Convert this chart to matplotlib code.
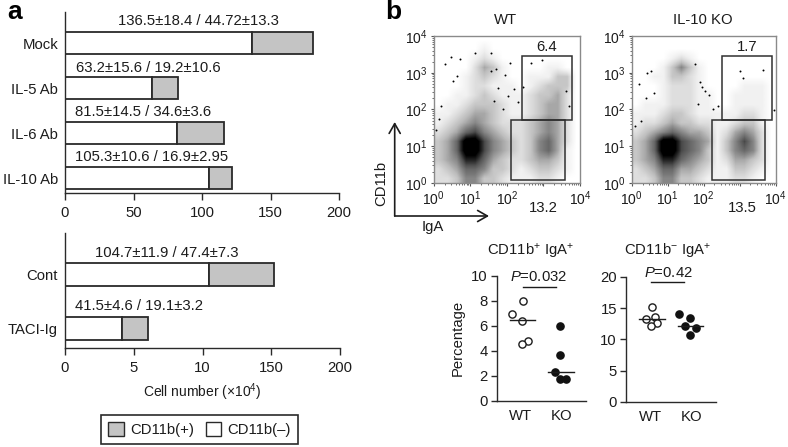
import numpy as np
import matplotlib
matplotlib.use("Agg")
import matplotlib.pyplot as plt
from matplotlib.patches import Patch, Rectangle

plt.rcParams['font.family'] = ['Liberation Sans', 'DejaVu Sans']
plt.rcParams['mathtext.fontset'] = 'custom'
plt.rcParams['mathtext.rm'] = 'Liberation Sans'
plt.rcParams['mathtext.it'] = 'Liberation Sans:italic'
plt.rcParams['mathtext.default'] = 'regular'

W, H = 788, 447
DARK = '#2a2a2a'
GREY = '#c4c4c4'
FS = 10.7

# panel a
top_names = ['Mock', 'IL-5 Ab', 'IL-6 Ab', 'IL-10 Ab']
top_neg = [136.5, 63.2, 81.5, 105.3]
top_pos = [44.72, 19.2, 34.6, 16.9]
top_notes = ['136.5±18.4 / 44.72±13.3', '63.2±15.6 / 19.2±10.6',
             '81.5±14.5 / 34.6±3.6', '105.3±10.6 / 16.9±2.95']
low_names = ['Cont', 'TACI-Ig']
low_neg = [104.7, 41.5]
low_pos = [47.4, 19.1]
low_notes = ['104.7±11.9 / 47.4±7.3', '41.5±4.6 / 19.1±3.2']
top_xticks = [0, 50, 100, 150, 200]
top_xlabels = ['0', '50', '100', '150', '200']
low_xlabels = ['0', '5', '10', '150', '200']

# panel b, flow plots: density read by eye per 0.25 decade, top row = 10^3.75-10^4
wt_density = [
    [0, 0, 0, 0, 0, 0, 0, 0, 0, 0, 0, 0, 0, 0, 0, 0],
    [0, 0, 0, 0, 0, 1, 0, 0, 0, 0, 0, 0, 0, 0, 0, 0],
    [0, 0, 0, 0, 1, 2, 1, 0, 0, 0, 0, 0, 0, 0, 0, 0],
    [0, 0, 0, 0, 2, 4, 3, 1, 0, 0, 0, 0, 1, 1, 0, 0],
    [0, 0, 0, 1, 2, 3, 2, 1, 0, 0, 1, 1, 1, 3, 3, 0],
    [0, 0, 0, 1, 2, 2, 1, 1, 1, 0, 1, 2, 3, 3, 3, 0],
    [0, 0, 1, 1, 2, 3, 2, 1, 1, 1, 2, 3, 3, 4, 2, 0],
    [0, 1, 1, 2, 3, 3, 3, 2, 1, 1, 2, 3, 4, 4, 2, 0],
    [1, 1, 2, 3, 4, 4, 3, 2, 1, 1, 2, 3, 4, 4, 2, 0],
    [1, 2, 3, 4, 5, 4, 3, 2, 2, 2, 3, 4, 5, 4, 2, 0],
    [2, 3, 4, 6, 7, 5, 4, 3, 2, 2, 3, 4, 5, 4, 2, 0],
    [3, 4, 6, 10, 10, 7, 5, 4, 3, 2, 3, 5, 6, 4, 2, 0],
    [3, 4, 6, 10, 10, 7, 5, 4, 3, 2, 3, 5, 6, 4, 1, 0],
    [3, 4, 5, 8, 8, 6, 4, 3, 2, 2, 3, 4, 4, 3, 1, 0],
    [2, 3, 4, 6, 6, 5, 3, 3, 2, 1, 2, 3, 3, 2, 1, 0],
    [2, 2, 3, 5, 5, 3, 3, 2, 1, 1, 1, 2, 2, 1, 0, 0],
]
ko_density = [
    [0, 0, 0, 0, 0, 0, 0, 0, 0, 0, 0, 0, 0, 0, 0, 0],
    [0, 0, 0, 0, 0, 0, 0, 0, 0, 0, 0, 0, 0, 0, 0, 0],
    [0, 0, 0, 0, 1, 2, 1, 0, 0, 0, 0, 0, 0, 0, 0, 0],
    [0, 0, 0, 1, 3, 5, 3, 1, 0, 0, 0, 0, 0, 0, 0, 0],
    [0, 0, 1, 1, 3, 3, 2, 1, 0, 0, 0, 0, 0, 0, 0, 0],
    [0, 0, 0, 1, 2, 2, 2, 1, 0, 0, 0, 0, 1, 1, 1, 0],
    [0, 0, 0, 1, 2, 2, 2, 1, 1, 0, 0, 1, 1, 1, 1, 0],
    [0, 1, 1, 1, 2, 2, 2, 1, 1, 0, 0, 1, 1, 1, 1, 0],
    [1, 1, 1, 2, 3, 3, 2, 1, 1, 1, 1, 1, 2, 2, 1, 0],
    [1, 2, 2, 3, 4, 3, 3, 2, 2, 1, 1, 2, 3, 3, 1, 0],
    [2, 3, 4, 5, 6, 5, 4, 4, 3, 1, 2, 4, 5, 4, 2, 0],
    [3, 4, 6, 10, 10, 7, 6, 5, 4, 1, 3, 5, 7, 5, 2, 0],
    [3, 4, 6, 10, 10, 7, 6, 5, 3, 1, 3, 5, 6, 5, 2, 0],
    [3, 4, 5, 8, 8, 6, 5, 4, 3, 1, 2, 4, 4, 3, 2, 0],
    [2, 3, 4, 6, 6, 4, 4, 3, 2, 1, 1, 3, 3, 2, 1, 0],
    [2, 2, 3, 5, 5, 3, 3, 2, 1, 1, 1, 2, 2, 1, 0, 0],
]
# stray events outside the clouds, in decades
wt_stray_x = [0.32, 0.48, 1.14, 1.57, 0.71, 0.53, 0.64, 1.71, 1.57, 1.94, 2.08, 2.66, 2.95,
              1.75, 2.03, 2.21, 0.21, 0.16, 0.07, 1.66, 1.89, 2.3, 2.45, 3.7, 3.62]
wt_stray_y = [3.25, 3.44, 3.55, 3.53, 3.38, 2.77, 2.91, 3.09, 3.05, 2.94, 3.27, 3.27, 3.35,
              2.59, 2.36, 2.55, 2.09, 1.73, 1.45, 2.23, 2.0, 2.2, 2.6, 2.1, 2.5]
ko_stray_x = [0.42, 0.55, 0.2, 0.4, 1.9, 1.75, 2.05, 2.15, 2.25, 3.0, 3.65, 3.1, 2.4, 3.95,
              0.62, 1.85, 1.95, 0.25, 0.1]
ko_stray_y = [3.0, 3.05, 2.7, 2.3, 2.75, 3.25, 2.5, 2.4, 2.0, 3.05, 3.07, 2.85, 2.1, 1.98,
              2.45, 2.15, 2.6, 1.7, 1.55]
flow_ticks = [0, 1, 2, 3, 4]
flow_xlabels = ['$10^{0}$', '$10^{1}$', '$10^{2}$', '', '$10^{4}$']
flow_ylabels = ['$10^{0}$', '$10^{1}$', '$10^{2}$', '$10^{3}$', '$10^{4}$']
flow_minor = [d + np.log10(m) for d in range(4) for m in range(2, 10)]

# panel b, dot plots
pos_wt_x = [1.06, 0.79, 1.05, 1.19, 1.05]
pos_wt_y = [8.0, 6.9, 6.4, 4.8, 4.5]
pos_ko_x = [1.98, 1.98, 1.85, 1.98, 2.11]
pos_ko_y = [6.0, 3.65, 2.3, 1.75, 1.75]
neg_wt_x = [1.04, 0.91, 1.11, 1.17, 1.03]
neg_wt_y = [15.2, 13.2, 13.6, 12.6, 12.1]
neg_ko_x = [1.70, 1.98, 1.84, 2.11, 1.98]
neg_ko_y = [14.0, 13.5, 12.2, 11.8, 10.7]
pos_medians = [6.45, 2.3]
neg_medians = [13.2, 12.2]
group_names = ['WT', 'KO']


def px_axes(fig, left, top, right, bottom):
    return fig.add_axes([left / W, 1 - bottom / H, (right - left) / W, (bottom - top) / H])


def px_text(fig, x, y, s, **kw):
    kw.setdefault('ha', 'center')
    kw.setdefault('va', 'center')
    kw.setdefault('fontsize', FS)
    kw.setdefault('color', '#1c1c1c')
    fig.text(x / W, 1 - y / H, s, **kw)


def bars(ax, names, neg, pos, height, xlabels, ylim):
    y = np.arange(len(names))
    ax.barh(y, neg, height, color='white', edgecolor=DARK, linewidth=1.3)
    ax.barh(y, pos, height, left=neg, color=GREY, edgecolor=DARK, linewidth=1.3)
    ax.set_xlim(0, 200)
    ax.set_ylim(*ylim)
    ax.set_yticks(y)
    ax.set_yticklabels(names, fontsize=FS, color='#1c1c1c')
    ax.set_xticks(top_xticks)
    ax.set_xticklabels(xlabels, fontsize=FS, color='#1c1c1c')
    ax.tick_params(axis='y', length=0, pad=5)
    ax.tick_params(axis='x', length=5, width=1, color=DARK, pad=4)
    for s in ['top', 'right']:
        ax.spines[s].set_visible(False)
    for s in ['left', 'bottom']:
        ax.spines[s].set_color(DARK)
        ax.spines[s].set_linewidth(1)
    ax.patch.set_alpha(0)


def flow(ax, density, stray_x, stray_y, gates):
    ax.imshow(np.array(density), extent=(0, 4, 0, 4), cmap='Greys', vmin=0, vmax=9,
              interpolation='bilinear', aspect='auto')
    ax.scatter(stray_x, stray_y, s=2, color='black', linewidths=0)
    for x0, x1, y0, y1 in gates:
        ax.add_patch(Rectangle((x0, y0), x1 - x0, y1 - y0, fill=False, edgecolor='#303030', linewidth=1.1))
    ax.set_xlim(0, 4)
    ax.set_ylim(0, 4)
    ax.set_xticks(flow_ticks)
    ax.set_yticks(flow_ticks)
    ax.set_xticklabels(flow_xlabels, fontsize=10, color='#1c1c1c')
    ax.set_yticklabels(flow_ylabels, fontsize=10, color='#1c1c1c')
    ax.set_xticks(flow_minor, minor=True)
    ax.set_yticks(flow_minor, minor=True)
    ax.tick_params(which='major', length=2.5, width=0.8, color='#555555', pad=2)
    ax.tick_params(which='minor', length=1.2, width=0.6, color='#555555')
    for s in ax.spines.values():
        s.set_color('#8a8a8a')
        s.set_linewidth(1)


def dots(ax, wt_x, wt_y, ko_x, ko_y, medians, spans, ymax, yticks, p_span, p_y):
    ax.scatter(wt_x, wt_y, s=27, facecolor='white', edgecolor='#1c1c1c', linewidth=1, zorder=3, clip_on=False)
    ax.scatter(ko_x, ko_y, s=27, facecolor='#111111', edgecolor='#111111', linewidth=1, zorder=3, clip_on=False)
    for m, (a, b) in zip(medians, spans):
        ax.plot([a, b], [m, m], color='#1c1c1c', lw=1, zorder=4)
    ax.plot(p_span, [p_y, p_y], color='#1c1c1c', lw=1, clip_on=False)
    ax.set_ylim(0, ymax)
    ax.set_yticks(yticks)
    ax.set_xticks([1, 2])
    ax.set_xticklabels(group_names, fontsize=FS, color='#1c1c1c')
    ax.tick_params(axis='x', length=0, pad=6)
    ax.tick_params(axis='y', length=4.5, width=1, color=DARK, labelsize=FS, labelcolor='#1c1c1c', pad=2)
    for s in ['top', 'right']:
        ax.spines[s].set_visible(False)
    for s in ['left', 'bottom']:
        ax.spines[s].set_color(DARK)
        ax.spines[s].set_linewidth(1)


fig = plt.figure(figsize=(W / 100, H / 100), dpi=100)

ax = px_axes(fig, 65, 12, 339, 193)
bars(ax, top_names, top_neg, top_pos, 0.49, top_xlabels, (3.333, -0.689))
ax = px_axes(fig, 65, 233, 340, 348)
bars(ax, low_names, low_neg, low_pos, 0.426, low_xlabels, (1.354, -0.77))

for s, x, y in zip(top_notes, [198, 148, 143, 152], [21, 68, 112, 157]):
    px_text(fig, x, y, s)
for s, x, y in zip(low_notes, [167, 139], [253, 306]):
    px_text(fig, x, y, s)
px_text(fig, 202, 392, 'Cell number (×$10^{4}$)', fontsize=10)
px_text(fig, 15, 12, 'a', fontsize=19, fontweight='bold', color='black')
px_text(fig, 393, 12, 'b', fontsize=19, fontweight='bold', color='black')

handles = [Patch(facecolor=GREY, edgecolor=DARK, linewidth=1),
           Patch(facecolor='white', edgecolor=DARK, linewidth=1)]
fig.legend(handles, ['CD11b(+)', 'CD11b(–)'], ncol=2, loc='center',
           bbox_to_anchor=(199.5 / W, 1 - 429.5 / H), frameon=True, fancybox=False,
           edgecolor=DARK, framealpha=1, fontsize=FS, handlelength=1.05, handleheight=1.05,
           handletextpad=0.4, columnspacing=0.8, borderpad=0.5, labelcolor='#1c1c1c').get_frame().set_linewidth(1.2)

ax = px_axes(fig, 433.5, 36, 580, 183)
flow(ax, wt_density, wt_stray_x, wt_stray_y, [(2.41, 3.78, 1.71, 3.46), (2.12, 3.58, 0.08, 1.71)])
ax = px_axes(fig, 631.7, 36, 775.5, 183)
flow(ax, ko_density, ko_stray_x, ko_stray_y, [(2.5, 3.9, 1.71, 3.46), (2.22, 3.7, 0.08, 1.71)])

px_text(fig, 506, 20, 'WT')
px_text(fig, 703, 20, 'IL-10 KO')
px_text(fig, 547, 47, '6.4')
px_text(fig, 747, 47, '1.7')
px_text(fig, 543, 208, '13.2')
px_text(fig, 742, 208, '13.5')
px_text(fig, 381, 183, 'CD11b', rotation=90)
px_text(fig, 433, 227, 'IgA')

arrow = dict(arrowstyle='->,head_length=0.7,head_width=0.4', color='#1c1c1c', lw=1.2,
             shrinkA=0, shrinkB=0)
fig.add_artist(plt.Annotation('', xy=(394.7 / W, 1 - 122 / H), xytext=(394.7 / W, 1 - 216 / H),
                              xycoords='figure fraction', textcoords='figure fraction', arrowprops=arrow))
fig.add_artist(plt.Annotation('', xy=(489 / W, 1 - 216 / H), xytext=(394.7 / W, 1 - 216 / H),
                              xycoords='figure fraction', textcoords='figure fraction', arrowprops=arrow))

ax = px_axes(fig, 496.7, 275.7, 586, 400.7)
ax.set_xlim(0.43, 2.6)
dots(ax, pos_wt_x, pos_wt_y, pos_ko_x, pos_ko_y, pos_medians, [(0.76, 1.37), (1.67, 2.30)],
     10, [0, 2, 4, 6, 8, 10], [1.08, 1.88], 9.1)
ax = px_axes(fig, 626, 277, 716, 401.7)
ax.set_xlim(0.415, 2.6)
dots(ax, neg_wt_x, neg_wt_y, neg_ko_x, neg_ko_y, neg_medians, [(0.74, 1.36), (1.67, 2.28)],
     20, [0, 5, 10, 15, 20], [1.02, 1.83], 19.2)

px_text(fig, 531, 252, 'CD11b$^{+}$ IgA$^{+}$')
px_text(fig, 668, 252, 'CD11b$^{-}$ IgA$^{+}$')
px_text(fig, 539, 277, '$\\mathit{P}$=0.032')
px_text(fig, 668, 273, '$\\mathit{P}$=0.42')
px_text(fig, 458, 338, 'Percentage', rotation=90)

fig.savefig('out.png', dpi=100)
